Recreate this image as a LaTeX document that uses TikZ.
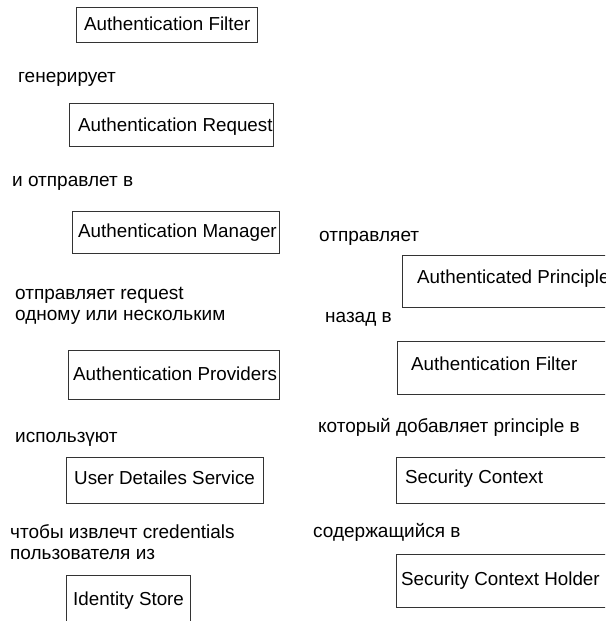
\documentclass[tikz,border=0pt]{standalone}
\usepackage{fontspec}
\setmainfont{Liberation Sans}
\begin{document}
\begin{tikzpicture}[x=1pt,y=-1pt,
  box/.style={draw=black!80, line width=1pt, fill=none, inner sep=0pt, anchor=north west},
  txt/.style={inner sep=0pt, anchor=base west, font=\fontsize{18.8}{22}\selectfont, text=black},
  lbl/.style={inner sep=0pt, anchor=base west, font=\fontsize{19}{22}\selectfont, text=black}]
\clip (0,0) rectangle (605,621);
\fill[white] (0,0) rectangle (605,621);
% left column boxes
\node[box, minimum width=181pt, minimum height=35pt] (b1) at (76,7) {};
\node[txt] (t1) at (84,30) {Authentication Filter};
\node[box, minimum width=204pt, minimum height=43pt] (b2) at (69,103) {};
\node[txt] (t2) at (78,131) {Authentication Request};
\node[box, minimum width=207pt, minimum height=42pt] (b3) at (72,211) {};
\node[txt] (t3) at (78,237) {Authentication Manager};
\node[box, minimum width=211pt, minimum height=49pt] (b4) at (68,350) {};
\node[txt] (t4) at (73,380) {Authentication Providers};
\node[box, minimum width=197pt, minimum height=46pt] (b5) at (66,457) {};
\node[txt] (t5) at (74,484) {User Detailes Service};
\node[box, minimum width=124pt, minimum height=60pt] (b6) at (66,575) {};
\node[txt] (t6) at (73,605) {Identity Store};
% right column boxes (cut off by the right edge, as in the reference)
\node[box, minimum width=230pt, minimum height=52pt] (b7) at (402,255) {};
\node[txt] (t7) at (417,283) {Authenticated Principle};
\node[box, minimum width=230pt, minimum height=53pt] (b8) at (397,341) {};
\node[txt] (t8) at (411,370) {Authentication Filter};
\node[box, minimum width=230pt, minimum height=46pt] (b9) at (396,457) {};
\node[txt] (t9) at (405,483) {Security Context};
\node[box, minimum width=230pt, minimum height=53pt] (b10) at (396,554) {};
\node[txt] (t10) at (401,585) {Security Context Holder};
% labels
\node[lbl] (l1) at (18,82) {генерирует};
\node[lbl] (l2) at (12,186) {и отправлет в};
\node[lbl] (l3a) at (15,299) {отправляет request};
\node[lbl] (l3b) at (15,320) {одному или нескольким};
\node[lbl] (l4) at (15,442) {использүют};
\node[lbl] (l5a) at (10,538) {чтобы извлечт credentials};
\node[lbl] (l5b) at (10,559) {пользователя из};
\node[lbl] (l6) at (319,241) {отправляет};
\node[lbl] (l7) at (325,322) {назад в};
\node[lbl] (l8) at (318,432) {который добавляет principle в};
\node[lbl] (l9) at (313,537) {содержащийся в};
\end{tikzpicture}
\end{document}
